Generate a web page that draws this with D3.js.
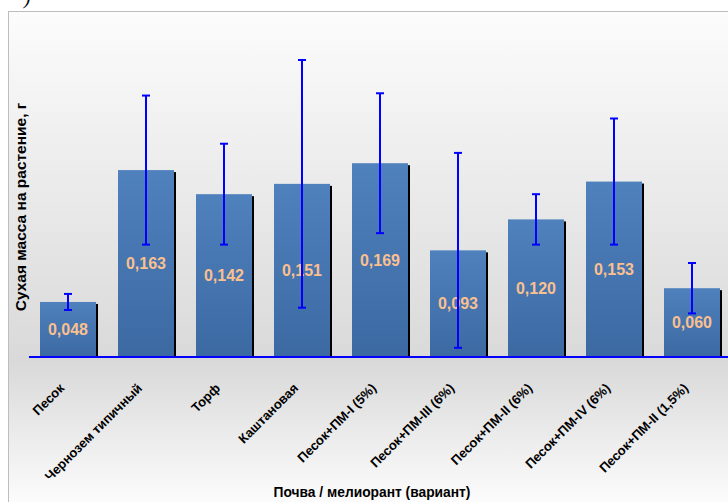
<!DOCTYPE html>
<html><head><meta charset="utf-8">
<script src="https://cdn.jsdelivr.net/npm/d3@7"></script>
<style>html,body{margin:0;padding:0;background:#fff;}svg{display:block;}</style>
</head><body>
<svg id="c" width="728" height="502"></svg>
<script>
const categories = ["Песок","Чернозем типичный","Торф","Каштановая","Песок+ПМ-I (5%)","Песок+ПМ-III (6%)","Песок+ПМ-II (6%)","Песок+ПМ-IV (6%)","Песок+ПМ-II (1,5%)"];
const values = [0.048,0.163,0.142,0.151,0.169,0.093,0.120,0.153,0.060];
const errors = [0.007,0.065,0.044,0.108,0.061,0.085,0.022,0.055,0.022];
const valueLabels = ["0,048","0,163","0,142","0,151","0,169","0,093","0,120","0,153","0,060"];
const yTitle = "Сухая масса на растение, г";
const xTitle = "Почва / мелиорант (вариант)";

const svg = d3.select("#c");
const defs = svg.append("defs");
const bg = defs.append("linearGradient").attr("id","bg").attr("x1",0).attr("y1",0).attr("x2",0).attr("y2",1);
bg.append("stop").attr("offset","0").attr("stop-color","#fcfcfc");
bg.append("stop").attr("offset","0.70").attr("stop-color","#d9d9d9");
bg.append("stop").attr("offset","1").attr("stop-color","#fefefe");
const bar = defs.append("linearGradient").attr("id","bar").attr("x1",0).attr("y1",0).attr("x2",0).attr("y2",1);
bar.append("stop").attr("offset","0").attr("stop-color","#4f81bd");
bar.append("stop").attr("offset","1").attr("stop-color","#3c69a2");

// top fragment of caption (clipped in the original as well)
svg.append("text").attr("x",24).attr("y",4).attr("font-family","Liberation Serif, serif").attr("font-style","italic").attr("font-size",20).attr("fill","#000").text(")");

// chart area
svg.append("rect").attr("x",8.5).attr("y",11.5).attr("width",730).attr("height",500).attr("fill","url(#bg)").attr("stroke","#bdbdbd").attr("stroke-width",1);

const x = d3.scaleBand().domain(categories).range([29,731]).paddingInner(22/78).paddingOuter(11/78);
const y = d3.scaleLinear().domain([0,0.3]).range([357,13]);

const g = svg.append("g");
// shadows
g.selectAll("rect.sh").data(values).join("rect").attr("class","sh")
  .attr("x",(d,i)=>x(categories[i])+2).attr("y",d=>y(d)+2)
  .attr("width",x.bandwidth()).attr("height",d=>y(0)-y(d)-2).attr("fill","#000");
g.selectAll("rect.b").data(values).join("rect").attr("class","b")
  .attr("x",(d,i)=>x(categories[i])).attr("y",d=>y(d))
  .attr("width",x.bandwidth()).attr("height",d=>y(0)-y(d)).attr("fill","url(#bar)");

// value labels
g.selectAll("text.v").data(values).join("text").attr("class","v")
  .attr("x",(d,i)=>x(categories[i])+x.bandwidth()/2).attr("y",d=>(y(d)+y(0))/2)
  .attr("dy","0.35em").attr("text-anchor","middle")
  .attr("font-family","Liberation Sans, Arial, sans-serif").attr("font-weight","bold").attr("font-size",16)
  .attr("fill","#fac090").text((d,i)=>valueLabels[i]);

// error bars
const eb = g.selectAll("g.e").data(values).join("g").attr("class","e")
  .attr("stroke","#0000ff").attr("stroke-width",2);
eb.append("line").attr("x1",(d,i)=>x(categories[i])+x.bandwidth()/2).attr("x2",(d,i)=>x(categories[i])+x.bandwidth()/2)
  .attr("y1",(d,i)=>y(d+errors[i])).attr("y2",(d,i)=>y(d-errors[i]));
eb.append("line").attr("x1",(d,i)=>x(categories[i])+x.bandwidth()/2-4).attr("x2",(d,i)=>x(categories[i])+x.bandwidth()/2+4)
  .attr("y1",(d,i)=>y(d+errors[i])).attr("y2",(d,i)=>y(d+errors[i]));
eb.append("line").attr("x1",(d,i)=>x(categories[i])+x.bandwidth()/2-4).attr("x2",(d,i)=>x(categories[i])+x.bandwidth()/2+4)
  .attr("y1",(d,i)=>y(d-errors[i])).attr("y2",(d,i)=>y(d-errors[i]));

// baseline
svg.append("line").attr("x1",29).attr("x2",728).attr("y1",y(0)).attr("y2",y(0)).attr("stroke","#0000ff").attr("stroke-width",2);

// x labels
const xa = svg.append("g").attr("transform",`translate(0,${y(0)})`)
  .call(d3.axisBottom(x).tickSize(0).tickPadding(0));
xa.select(".domain").remove();
xa.selectAll("text").attr("font-family","Liberation Sans, Arial, sans-serif").attr("font-weight","bold").attr("font-size",13)
  .attr("fill","#000").attr("text-anchor","end").attr("dy",0).attr("y",0)
  .attr("transform","translate(-3,32) rotate(-45)");

// titles
svg.append("text").attr("transform","translate(26,207) rotate(-90)").attr("text-anchor","middle")
  .attr("font-family","Liberation Sans, Arial, sans-serif").attr("font-weight","bold").attr("font-size",15.5).attr("fill","#000").text(yTitle);
svg.append("text").attr("x",372).attr("y",497).attr("text-anchor","middle")
  .attr("font-family","Liberation Sans, Arial, sans-serif").attr("font-weight","bold").attr("font-size",13.8).attr("fill","#000").text(xTitle);
</script>
</body></html>
